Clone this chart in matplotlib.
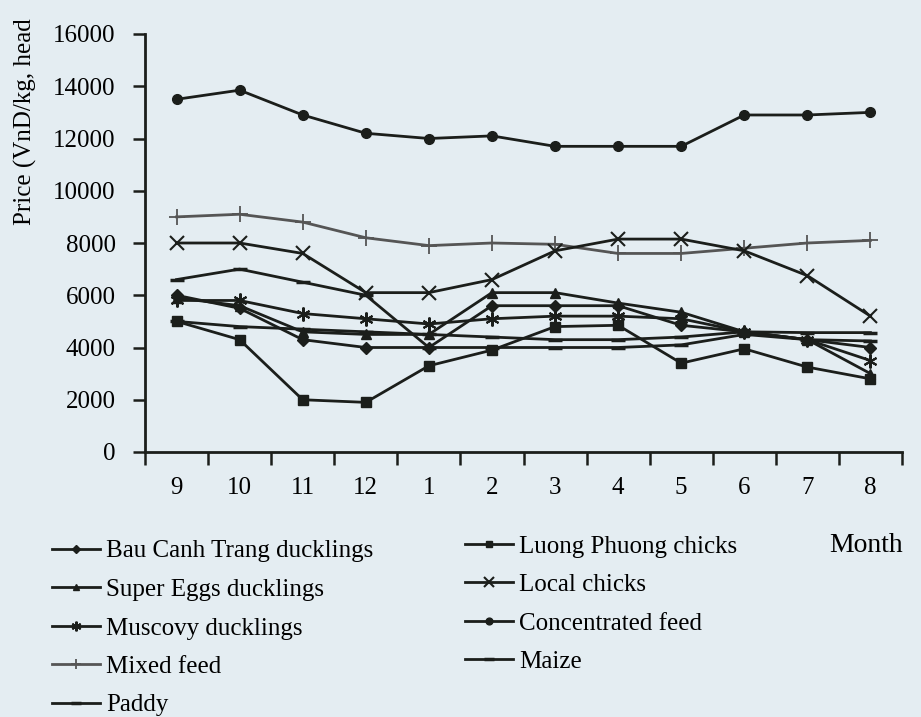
import numpy as np
import matplotlib
matplotlib.use("Agg")
import matplotlib.pyplot as plt

# Monthly prices (VnD/kg or VnD/head), September to August
months = ["9", "10", "11", "12", "1", "2", "3", "4", "5", "6", "7", "8"]

bau_canh_trang = [6000, 5500, 4300, 4000, 4000, 5600, 5600, 5600, 4850, 4600, 4300, 4000]
super_eggs = [5900, 5600, 4600, 4500, 4500, 6100, 6100, 5700, 5350, 4600, 4300, 3000]
muscovy = [5800, 5800, 5300, 5100, 4900, 5100, 5200, 5200, 5100, 4600, 4300, 3500]
mixed_feed = [9000, 9100, 8800, 8200, 7900, 8000, 7950, 7600, 7600, 7800, 8000, 8100]
paddy = [6600, 7000, 6500, 6000, 4000, 4000, 4000, 4000, 4100, 4500, 4300, 4250]
luong_phuong = [5000, 4300, 2000, 1900, 3300, 3900, 4800, 4850, 3400, 3950, 3250, 2800]
local_chicks = [8000, 8000, 7600, 6100, 6100, 6600, 7700, 8150, 8150, 7700, 6750, 5200]
concentrated = [13500, 13850, 12900, 12200, 12000, 12100, 11700, 11700, 11700, 12900, 12900, 13000]
maize = [5000, 4800, 4700, 4600, 4500, 4400, 4300, 4300, 4400, 4600, 4570, 4570]

y_ticks = [0, 2000, 4000, 6000, 8000, 10000, 12000, 14000, 16000]

series = [
    ("Bau Canh Trang ducklings", bau_canh_trang, dict(marker="D", ms=6)),
    ("Super Eggs ducklings", super_eggs, dict(marker="^", ms=7)),
    ("Muscovy ducklings", muscovy, dict(marker=(6, 2, 0), ms=10, mew=1.5)),
    ("Mixed feed", mixed_feed, dict(marker="+", ms=11, mew=1.3, color="#555555")),
    ("Paddy", paddy, dict(marker="_", ms=10, mew=2.5)),
    ("Luong Phuong chicks", luong_phuong, dict(marker="s", ms=7)),
    ("Local chicks", local_chicks, dict(marker="x", ms=10, mew=1.5)),
    ("Concentrated feed", concentrated, dict(marker="o", ms=7)),
    ("Maize", maize, dict(marker="_", ms=10, mew=2.5)),
]

bg = "#e4edf2"
ink = "#1b1e1b"
plt.rcParams["font.family"] = ["Liberation Serif", "DejaVu Serif"]

fig = plt.figure(figsize=(9.21, 7.17), dpi=100, facecolor=bg)
ax = fig.add_axes([145 / 921, 1 - 452 / 717, (902 - 145) / 921, (452 - 34) / 717])
ax.set_facecolor(bg)

x = np.arange(len(months))
handles = []
for name, vals, style in series:
    st = dict(color=ink, lw=2.0, mec=ink, mfc=ink)
    st.update(style)
    if style.get("marker") == "+":
        st["mec"] = style["color"]
    (h,) = ax.plot(x, vals, label=name, **st)
    handles.append(h)

ax.set_xlim(-0.5, len(months) - 0.5)
ax.set_ylim(0, 16000)
ax.set_yticks(y_ticks)
ax.set_yticklabels([str(v) for v in y_ticks], fontsize=18)
ax.set_xticks(x)
ax.set_xticklabels(months, fontsize=18)
ax.set_xticks(np.arange(-0.5, len(months) - 0.4, 1.0), minor=True)
ax.tick_params(axis="x", which="major", length=0, pad=18)
ax.tick_params(axis="x", which="minor", length=9, width=1.8, color=ink)
ax.tick_params(axis="y", length=9, width=1.8, color=ink, pad=12)

for side in ("top", "right"):
    ax.spines[side].set_visible(False)
for side in ("left", "bottom"):
    ax.spines[side].set_linewidth(2.0)
    ax.spines[side].set_color(ink)

fig.text(25 / 921, 1 - 122 / 717, "Price (VnD/kg, head", rotation=90,
         fontsize=18, ha="center", va="center")
fig.text(866 / 921, 1 - 546 / 717, "Month", fontsize=20, ha="center", va="center")

leg_kw = dict(frameon=False, fontsize=18, handlelength=1.9, handletextpad=0.25,
              labelspacing=0.64, borderaxespad=0, borderpad=0)
leg1 = fig.legend(handles[:5], [s[0] for s in series[:5]], loc="upper left",
                  bbox_to_anchor=(52 / 921, 1 - 540 / 717), **leg_kw)
leg2 = fig.legend(handles[5:], [s[0] for s in series[5:]], loc="upper left",
                  bbox_to_anchor=(465 / 921, 1 - 535 / 717), **leg_kw)
for leg in (leg1, leg2):
    for lh in leg.legend_handles:
        lh.set_markersize(lh.get_markersize() * 0.7)

fig.savefig("out.png", dpi=100, facecolor=bg)
